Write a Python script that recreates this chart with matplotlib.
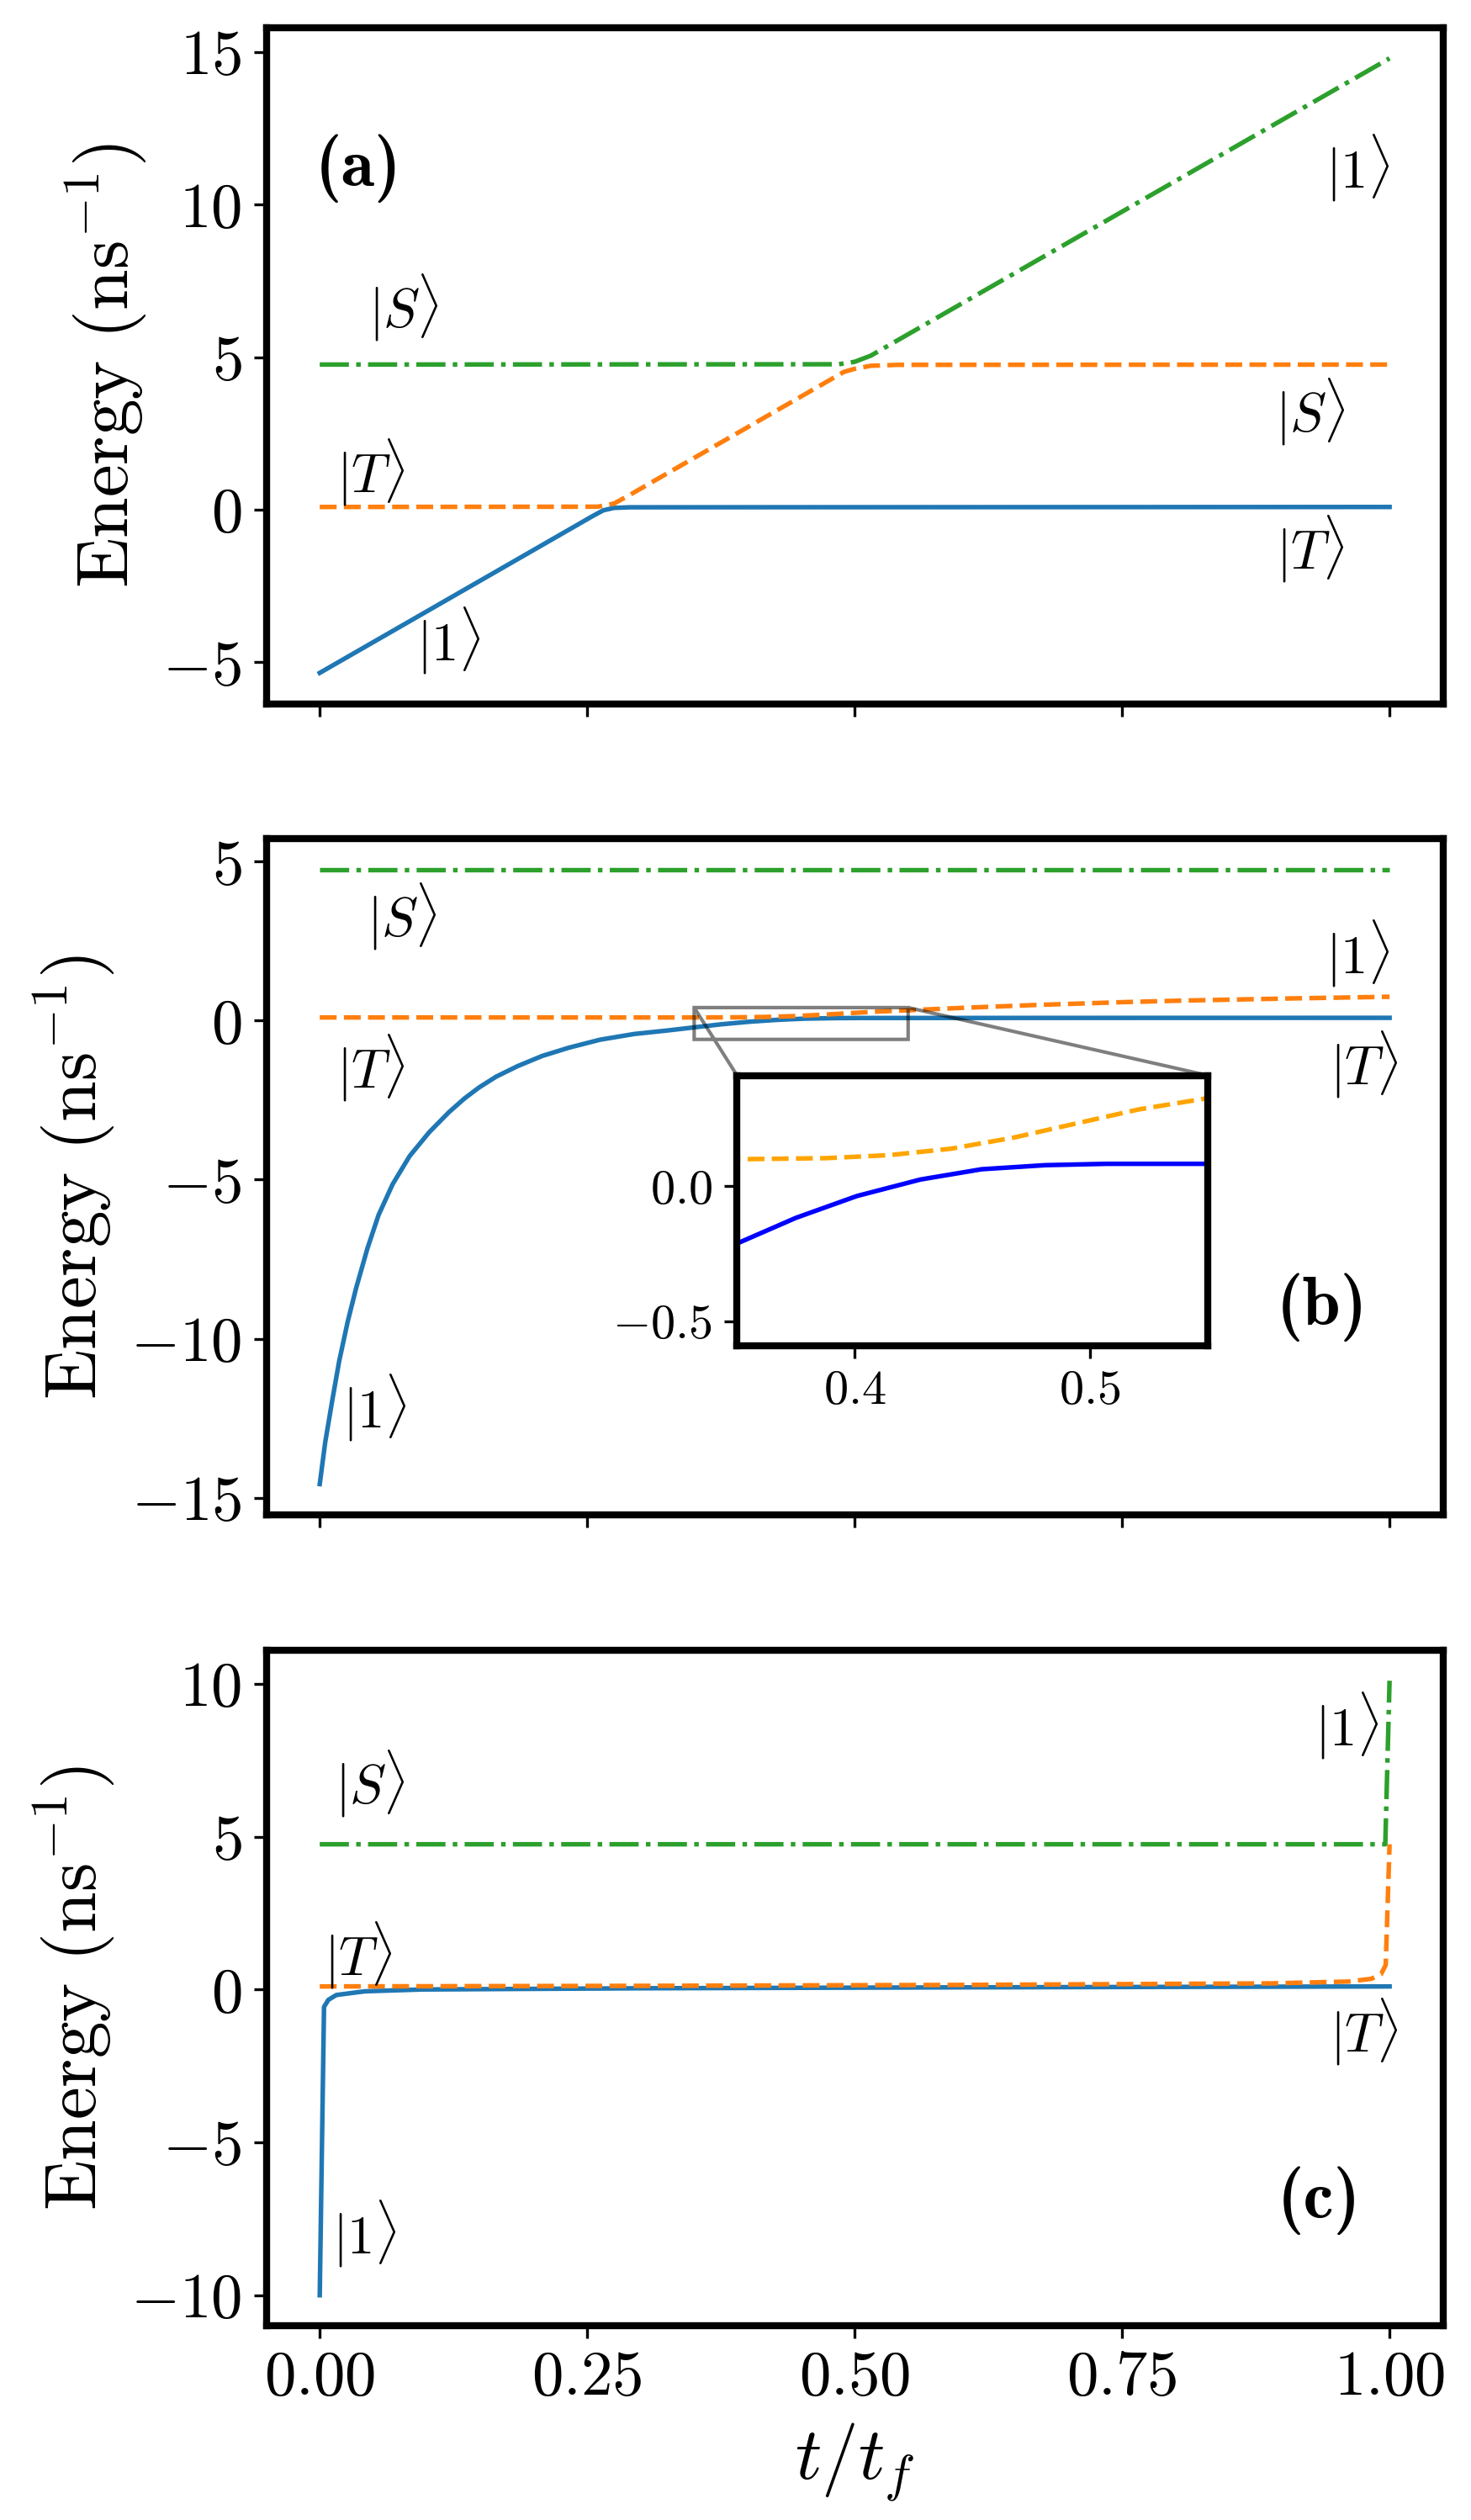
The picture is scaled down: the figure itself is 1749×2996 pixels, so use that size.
import matplotlib
matplotlib.use('Agg')
import matplotlib.pyplot as plt
from matplotlib.ticker import FuncFormatter

plt.rcParams['mathtext.fontset'] = 'cm'
plt.rcParams['font.family'] = ['serif']
plt.rcParams['font.serif'] = ['cmr10', 'DejaVu Serif']
plt.rcParams['axes.linewidth'] = 2

# (a) 线性扫描
ta_blue = [0, 0.255, 0.265, 0.275, 0.29, 1.0]
ea_blue = [-5.35, -0.21, -0.02, 0.06, 0.08, 0.09]
ta_orange = [0, 0.26, 0.275, 0.29, 0.49, 0.50, 0.515, 0.54, 1.0]
ea_orange = [0.09, 0.10, 0.20, 0.49, 4.52, 4.62, 4.72, 4.75, 4.76]
ta_green = [0, 0.485, 0.50, 0.515, 1.0]
ea_green = [4.76, 4.77, 4.85, 5.05, 14.8]

# (b)
tb_blue = [0, 0.0051, 0.0117, 0.0182, 0.0261, 0.034, 0.0445, 0.055, 0.0682, 0.084,
           0.1023, 0.1207, 0.1352, 0.149, 0.165, 0.185, 0.208, 0.233, 0.262, 0.294,
           0.325, 0.351, 0.375, 0.401, 0.428, 0.454, 0.481, 0.507, 0.55, 0.75, 1.0]
eb_blue = [-14.57, -13.26, -11.94, -10.70, -9.47, -8.41, -7.17, -6.11, -5.14, -4.26,
           -3.51, -2.88, -2.45, -2.10, -1.76, -1.43, -1.11, -0.85, -0.60, -0.42,
           -0.31, -0.208, -0.117, -0.036, 0.025, 0.063, 0.078, 0.083, 0.083, 0.086, 0.088]
tb_orange = [0, 0.2, 0.351, 0.388, 0.4146, 0.441, 0.4676, 0.494, 0.5206, 0.548,
             0.6, 0.668, 0.75, 0.807, 0.912, 1.0]
eb_orange = [0.10, 0.10, 0.100, 0.104, 0.115, 0.139, 0.180, 0.232, 0.284, 0.323,
             0.40, 0.49, 0.58, 0.63, 0.70, 0.75]
tb_green = [0, 1.0]
eb_green = [4.75, 4.75]

# (c)
tc_blue = [0, 0.004, 0.008, 0.0155, 0.042, 0.095, 0.3, 0.6, 1.0]
ec_blue = [-10.0, -0.57, -0.34, -0.18, -0.06, 0.0, 0.04, 0.07, 0.10]
tc_orange = [0, 0.3, 0.6, 0.888, 0.962, 0.983, 0.992, 0.9964, 1.0]
ec_orange = [0.10, 0.12, 0.15, 0.20, 0.26, 0.35, 0.50, 0.80, 4.75]
tc_green = [0, 0.996, 1.0]
ec_green = [4.75, 4.75, 10.1]

# 标签 (x, y, 文本)
labels_a = [(0.078, 6.6, r'$|S\rangle$'), (0.048, 1.2, r'$|T\rangle$'), (0.12, -4.3, r'$|1\rangle$'),
            (0.97, 11.2, r'$|1\rangle$'), (0.926, 3.2, r'$|S\rangle$'), (0.926, -1.3, r'$|T\rangle$')]
labels_b = [(0.077, 3.25, r'$|S\rangle$'), (0.048, -1.5, r'$|T\rangle$'), (0.051, -12.2, r'$|1\rangle$'),
            (0.97, 2.1, r'$|1\rangle$'), (0.976, -1.4, r'$|T\rangle$')]
labels_c = [(0.047, 6.7, r'$|S\rangle$'), (0.036, 1.1, r'$|T\rangle$'), (0.042, -8.0, r'$|1\rangle$'),
            (0.96, 8.6, r'$|1\rangle$'), (0.976, -1.4, r'$|T\rangle$')]
panel_pos = [(0.036, 11.2, '(a)'), (0.937, -9.0, '(b)'), (0.934, -6.9, '(c)')]

lw = 1.3
布, 图 = plt.subplots(3, 1, sharex=True, figsize=(5.83, 9.987))
plt.subplots_adjust(left=0.181, right=0.981, top=0.989, bottom=0.077, hspace=0.2)

data = [(ta_blue, ea_blue, ta_orange, ea_orange, ta_green, ea_green, labels_a),
        (tb_blue, eb_blue, tb_orange, eb_orange, tb_green, eb_green, labels_b),
        (tc_blue, ec_blue, tc_orange, ec_orange, tc_green, ec_green, labels_c)]

yfmt = FuncFormatter(lambda v, p: f'${v:g}$')
for i, ax in enumerate(图):
    tb, eb, to, eo, tg, eg, labs = data[i]
    ax.plot(tb, eb, '-', color='C0', lw=lw)
    ax.plot(to, eo, '--', color='C1', lw=lw)
    ax.plot(tg, eg, '-.', color='C2', lw=lw)
    for x, y, s in labs:
        ax.text(x, y, s, fontsize=15.5, ha='center', va='center')
    px, py, ps = panel_pos[i]
    ax.text(px, py, ps, fontsize=19.5, ha='center', va='center', family='cmb10')
    ax.yaxis.set_major_formatter(yfmt)
    ax.tick_params(labelsize=18)
    ax.set_ylabel(r'$\mathrm{Energy\ (ns^{-1})}$', fontsize=21)

图[2].xaxis.set_major_formatter(FuncFormatter(lambda v, p: f'${v:.2f}$'))
图[2].set_xlabel(r'$t/t_f$', fontsize=21)
图[2].set_xticks([0, 0.25, 0.5, 0.75, 1.0])

# 放大插图
axins = 图[1].inset_axes([0.4, 0.25, 0.4, 0.4])
axins.plot(tb_blue, eb_blue, '-', color='blue', lw=lw)
axins.plot(tb_orange, eb_orange, '--', color='orange', lw=lw)
axins.set_xlim(0.35, 0.55)
axins.set_ylim(-0.59, 0.41)
axins.set_xticks([0.4, 0.5])
axins.set_yticks([-0.5, 0.0])
axins.xaxis.set_major_formatter(FuncFormatter(lambda v, p: f'${v:.1f}$'))
axins.yaxis.set_major_formatter(FuncFormatter(lambda v, p: f'${v:.1f}$'))
axins.tick_params(labelsize=14)
for sp in axins.spines.values():
    sp.set_linewidth(2)
图[1].indicate_inset_zoom(axins, edgecolor='black')

plt.savefig('out.png', dpi=300)
